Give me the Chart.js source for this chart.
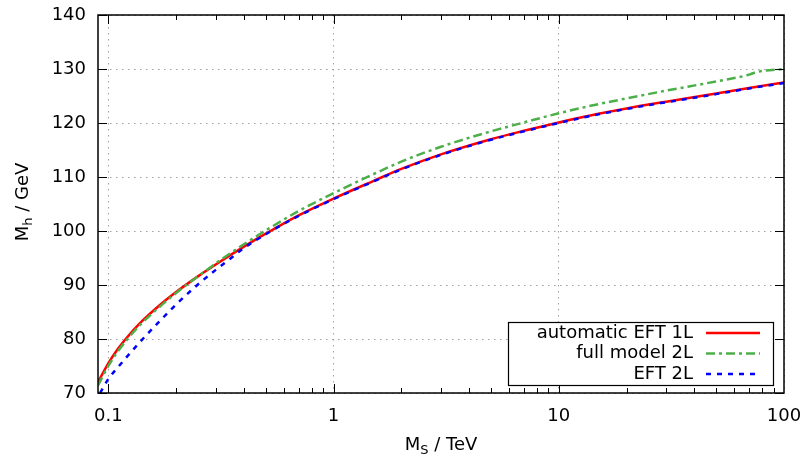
<!DOCTYPE html>
<html>
<head>
<meta charset="utf-8">
<script src="https://cdn.jsdelivr.net/npm/chart.js@4"></script>
<style>
  html, body { margin: 0; padding: 0; background: #fff; }
  #wrap { width: 805px; height: 456px; }
</style>
</head>
<body>
<div id="wrap"><canvas id="chart"></canvas></div>
<script>
// M_S in TeV, M_h in GeV
const msValues = [0.09, 0.1, 0.11, 0.12, 0.14, 0.17, 0.2, 0.25, 0.3, 0.4, 0.5, 0.7, 1, 1.5, 2, 3, 5, 7, 10, 15, 20, 30, 50, 70, 100]
const mhEft1L = [72.0, 75.5, 78.1, 80.1, 83.15, 86.35, 88.7, 91.6, 93.8, 97.1, 99.5, 102.9, 106.0, 109.25, 111.5, 114.2, 117.0, 118.55, 120.1, 121.7, 122.7, 123.95, 125.45, 126.5, 127.5]

const msFull = [0.09, 0.1, 0.11, 0.12, 0.14, 0.17, 0.2, 0.25, 0.3, 0.4, 0.5, 0.7, 1, 1.5, 2, 3, 5, 7, 10, 15, 20, 30, 50, 70, 75, 100]
const mhFull2L = [71.4, 75.0, 77.65, 79.7, 82.8, 86.05, 88.5, 91.6, 94.0, 97.55, 100.1, 103.7, 107.0, 110.5, 112.85, 115.6, 118.45, 120.1, 121.8, 123.5, 124.55, 126.0, 127.7, 128.95, 129.4, 130.0]

const msEft2L = [0.092, 0.1, 0.11, 0.12, 0.14, 0.17, 0.2, 0.25, 0.3, 0.35, 0.4, 0.5, 0.7, 1, 1.5, 2, 3, 5, 7, 10, 15, 20, 30, 50, 70, 100]
const mhEft2L = [70.0, 72.6, 74.7, 76.55, 79.7, 83.4, 86.4, 90.1, 92.8, 94.95, 96.85, 99.4, 102.8, 105.9, 109.15, 111.4, 114.1, 116.9, 118.45, 120.0, 121.6, 122.6, 123.85, 125.35, 126.4, 127.4]

const xMajorTicks = [0.1, 1, 10, 100]
const yTicks = [70, 80, 90, 100, 110, 120, 130, 140]

const FONT = "DejaVu Sans"
const FS = 18

const toPoints = (xs, ys) => xs.map((x, i) => ({ x: x, y: ys[i] }))

const series = [
  { label: "automatic EFT 1L", data: toPoints(msValues, mhEft1L), color: "#ff0000", dash: [], order: 2 },
  { label: "full model 2L", data: toPoints(msFull, mhFull2L), color: "#4daf4a", dash: [9, 4, 3, 4], order: 1 },
  { label: "EFT 2L", data: toPoints(msEft2L, mhEft2L), color: "#0000ff", dash: [5, 6], order: 0 },
]

// draw text with a subscript, e.g. M_S / TeV
function subText(ctx, x, y, base, sub, rest, size) {
  const small = Math.round(size * 0.7)
  ctx.font = size + "px " + FONT
  const w1 = ctx.measureText(base).width
  const w3 = ctx.measureText(rest).width
  ctx.font = small + "px " + FONT
  const w2 = ctx.measureText(sub).width
  let cx = x - (w1 + w2 + w3) / 2
  ctx.textAlign = "left"
  ctx.textBaseline = "middle"
  ctx.font = size + "px " + FONT
  ctx.fillText(base, cx, y)
  cx += w1
  ctx.font = small + "px " + FONT
  ctx.fillText(sub, cx, y + size * 0.32)
  cx += w2
  ctx.font = size + "px " + FONT
  ctx.fillText(rest, cx, y)
}

const framePlugin = {
  id: "frame",
  afterDatasetsDraw(chart) {
    const ctx = chart.ctx
    const a = chart.chartArea
    const xs = chart.scales.x
    const ys = chart.scales.y
    ctx.save()

    // ticks
    ctx.strokeStyle = "#000"
    ctx.lineWidth = 1
    ctx.setLineDash([])
    ctx.beginPath()
    for (let d = 0.1; d < 100; d *= 10) {
      for (let k = 1; k <= 9; k++) {
        const v = k * d
        const px = Math.round(xs.getPixelForValue(v)) + 0.5
        const len = k === 1 ? 9 : 5
        ctx.moveTo(px, a.bottom); ctx.lineTo(px, a.bottom - len)
        ctx.moveTo(px, a.top); ctx.lineTo(px, a.top + len)
      }
    }
    yTicks.forEach(v => {
      const py = Math.round(ys.getPixelForValue(v)) + 0.5
      ctx.moveTo(a.left, py); ctx.lineTo(a.left + 9, py)
      ctx.moveTo(a.right, py); ctx.lineTo(a.right - 9, py)
    })
    ctx.stroke()

    // frame
    ctx.lineWidth = 1.5
    ctx.strokeRect(a.left, a.top, a.right - a.left, a.bottom - a.top)

    // legend
    const box = { x: 508, y: 322, w: 265, h: 63 }
    ctx.fillStyle = "#fff"
    ctx.fillRect(box.x, box.y, box.w, box.h)
    ctx.lineWidth = 1.2
    ctx.strokeRect(box.x + 0.5, box.y + 0.5, box.w, box.h)
    ctx.font = FS + "px " + FONT
    ctx.textAlign = "right"
    ctx.textBaseline = "middle"
    series.forEach((s, i) => {
      const cy = box.y + 11 + i * 20.5
      ctx.fillStyle = "#000"
      ctx.fillText(s.label, 693, cy)
      ctx.strokeStyle = s.color
      ctx.lineWidth = 2.5
      ctx.setLineDash(s.dash)
      ctx.beginPath()
      ctx.moveTo(706, cy); ctx.lineTo(760, cy)
      ctx.stroke()
    })
    ctx.setLineDash([])

    // axis titles
    ctx.fillStyle = "#000"
    subText(ctx, (a.left + a.right) / 2, 445, "M", "S", " / TeV", FS)
    ctx.translate(23, 202)
    ctx.rotate(-Math.PI / 2)
    subText(ctx, 0, 0, "M", "h", " / GeV", FS)
    ctx.restore()
  },
}

new Chart(document.getElementById("chart"), {
  type: "scatter",
  data: {
    datasets: series.map(s => ({
      label: s.label,
      data: s.data,
      showLine: true,
      borderColor: s.color,
      backgroundColor: s.color,
      borderWidth: 2.5,
      borderDash: s.dash,
      pointRadius: 0,
      cubicInterpolationMode: "monotone",
      order: s.order,
    })),
  },
  options: {
    responsive: true,
    maintainAspectRatio: false,
    animation: false,
    layout: { padding: { top: 15, right: 21, left: 0, bottom: 0 } },
    plugins: {
      legend: { display: false },
      tooltip: { enabled: false },
    },
    scales: {
      x: {
        type: "logarithmic",
        min: 0.09,
        max: 100,
        afterBuildTicks: (scale) => {
          scale.ticks = xMajorTicks.map(v => ({ value: v, major: true }))
        },
        afterFit: (scale) => {
          scale.height = 63
          scale.paddingLeft = 0
          scale.paddingRight = 0
        },
        border: { display: false, dash: [1.5, 4.5] },
        grid: { color: "#a0a0a0", lineWidth: 1, drawTicks: false },
        ticks: {
          color: "#000",
          font: { family: FONT, size: FS },
          padding: 13,
          autoSkip: false,
          maxRotation: 0,
          callback: (value) => String(value),
        },
      },
      y: {
        min: 70,
        max: 140,
        afterBuildTicks: (scale) => {
          scale.ticks = yTicks.map(v => ({ value: v }))
        },
        afterFit: (scale) => {
          scale.width = 98
          scale.paddingTop = 0
          scale.paddingBottom = 0
        },
        border: { display: false, dash: [1.5, 4.5] },
        grid: { color: "#a0a0a0", lineWidth: 1, drawTicks: false },
        ticks: {
          color: "#000",
          font: { family: FONT, size: FS },
          padding: 12,
        },
      },
    },
  },
  plugins: [framePlugin],
})
</script>
</body>
</html>
